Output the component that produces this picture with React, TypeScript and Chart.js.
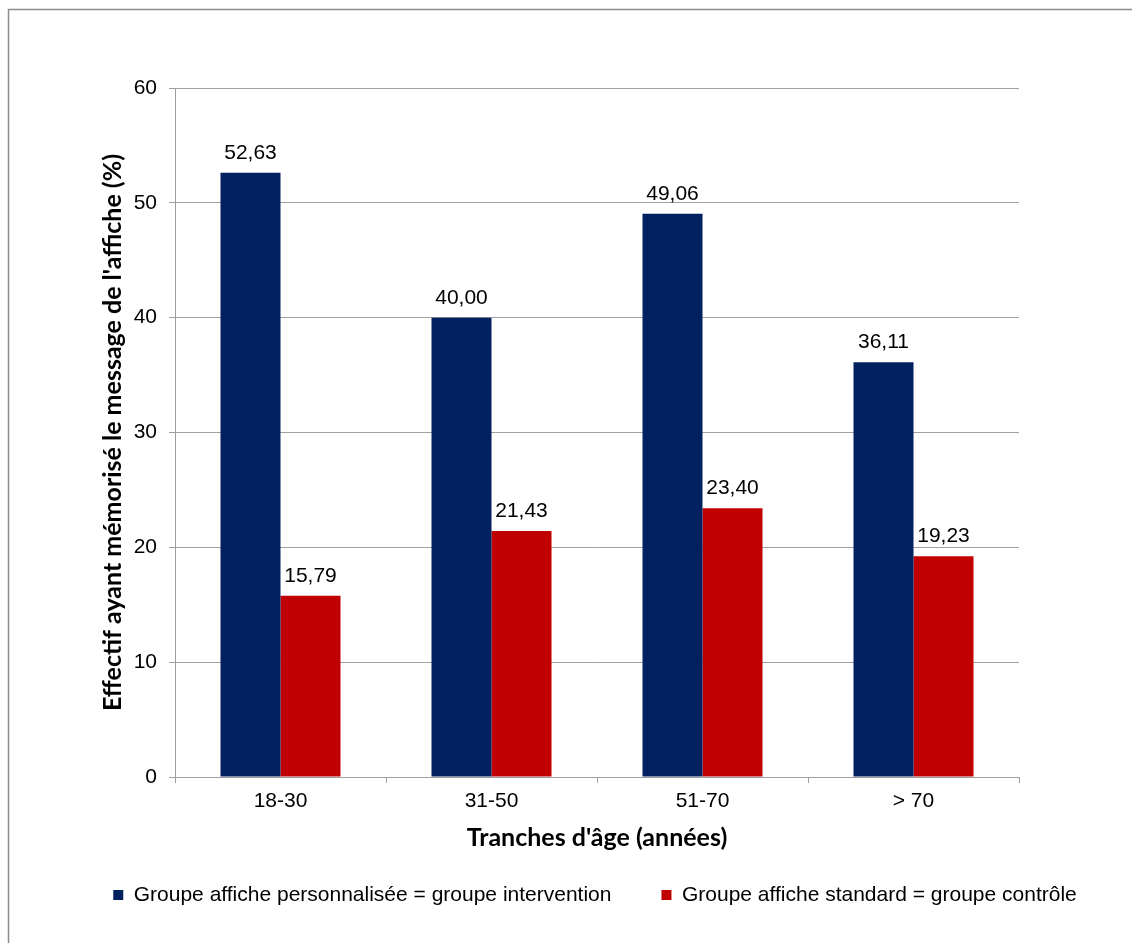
import React, { useEffect, useRef } from "react";
import { Chart, registerables } from "chart.js";

Chart.register(...registerables);

const categories = ["18-30", "31-50", "51-70", "> 70"];
const seriesLabels = [
  "Groupe affiche personnalisée = groupe intervention",
  "Groupe affiche standard = groupe contrôle",
];
const interventionValues = [52.63, 40.0, 49.06, 36.11];
const controlValues = [15.79, 21.43, 23.4, 19.23];
const seriesColors = ["#002060", "#C00000"];
const yMin = 0;
const yMax = 60;
const yStep = 10;
const xTitle = "Tranches d'âge (années)";
const yTitle = "Effectif ayant mémorisé le message de l'affiche (%)";

const BASE_FONT = '"Liberation Sans", Arial, sans-serif';
const TITLE_FONT = 'Lato, "Open Sans", sans-serif';

const fmt = (v: number) => v.toFixed(2).replace(".", ",");

const valueLabelPlugin = {
  id: "valueLabels",
  afterDatasetsDraw(chart: any) {
    const ctx = chart.ctx;
    ctx.save();
    ctx.font = `21px ${BASE_FONT}`;
    ctx.fillStyle = "#000";
    ctx.textAlign = "center";
    ctx.textBaseline = "alphabetic";
    chart.data.datasets.forEach((ds: any, i: number) => {
      const meta = chart.getDatasetMeta(i);
      meta.data.forEach((bar: any, j: number) => {
        ctx.fillText(fmt(ds.data[j]), bar.x, bar.y - 14);
      });
    });
    ctx.restore();
  },
};

const framePlugin = {
  id: "frame",
  beforeDraw(chart: any) {
    const ctx = chart.ctx;
    ctx.save();
    ctx.strokeStyle = "#8c8c8c";
    ctx.lineWidth = 1.5;
    ctx.beginPath();
    ctx.moveTo(8.5, chart.height);
    ctx.lineTo(8.5, 9.5);
    ctx.lineTo(chart.width, 9.5);
    ctx.stroke();
    ctx.restore();
  },
};

export default function App() {
  const ref = useRef<HTMLCanvasElement | null>(null);

  useEffect(() => {
    if (!ref.current) return;
    const chart = new Chart(ref.current, {
      type: "bar",
      data: {
        labels: categories,
        datasets: [
          {
            label: seriesLabels[0],
            data: interventionValues,
            backgroundColor: seriesColors[0],
            borderWidth: 0,
            categoryPercentage: 120 / 211,
            barPercentage: 1,
          },
          {
            label: seriesLabels[1],
            data: controlValues,
            backgroundColor: seriesColors[1],
            borderWidth: 0,
            categoryPercentage: 120 / 211,
            barPercentage: 1,
          },
        ],
      },
      options: {
        responsive: false,
        animation: false,
        layout: { padding: { left: 58, right: 0, top: 88, bottom: 27.5 } },
        plugins: {
          tooltip: { enabled: false },
          legend: {
            position: "bottom",
            labels: {
              boxWidth: 10,
              boxHeight: 10,
              padding: 50,
              color: "#000",
              font: { family: BASE_FONT, size: 21 },
            },
          },
        },
        scales: {
          x: {
            grid: {
              offset: true,
              drawOnChartArea: false,
              drawTicks: true,
              tickLength: 6,
              color: "#a0a0a0",
            },
            border: { color: "#a0a0a0" },
            ticks: {
              color: "#000",
              padding: 6,
              font: { family: BASE_FONT, size: 21 },
            },
            title: {
              display: true,
              text: xTitle,
              color: "#000",
              font: { family: TITLE_FONT, size: 25, weight: "bold" },
              padding: { top: 0, bottom: -18.5 },
            },
            afterFit: (s: any) => {
              s.height = 57.5;
            },
          },
          y: {
            min: yMin,
            max: yMax,
            grid: { color: "#a0a0a0", tickLength: 6, drawTicks: true },
            border: { color: "#a0a0a0" },
            ticks: {
              stepSize: yStep,
              color: "#000",
              padding: 12,
              font: { family: BASE_FONT, size: 21 },
            },
            title: {
              display: true,
              text: yTitle,
              color: "#000",
              font: { family: TITLE_FONT, size: 25, weight: "bold" },
              padding: { top: 40, bottom: 0 },
            },
            afterFit: (s: any) => {
              s.width = 117;
            },
          },
          yRight: {
            type: "linear",
            position: "right",
            display: true,
            grid: { display: false, drawTicks: false },
            border: { display: false },
            ticks: { display: false },
            afterFit: (s: any) => {
              s.width = 113;
            },
          },
        },
      } as any,
      plugins: [valueLabelPlugin, framePlugin],
    });
    return () => chart.destroy();
  }, []);

  return (
    <div style={{ position: "absolute", left: 0, top: 0, width: 1132, height: 943, background: "#fff" }}>
      <canvas ref={ref} width={1132} height={943} />
    </div>
  );
}
